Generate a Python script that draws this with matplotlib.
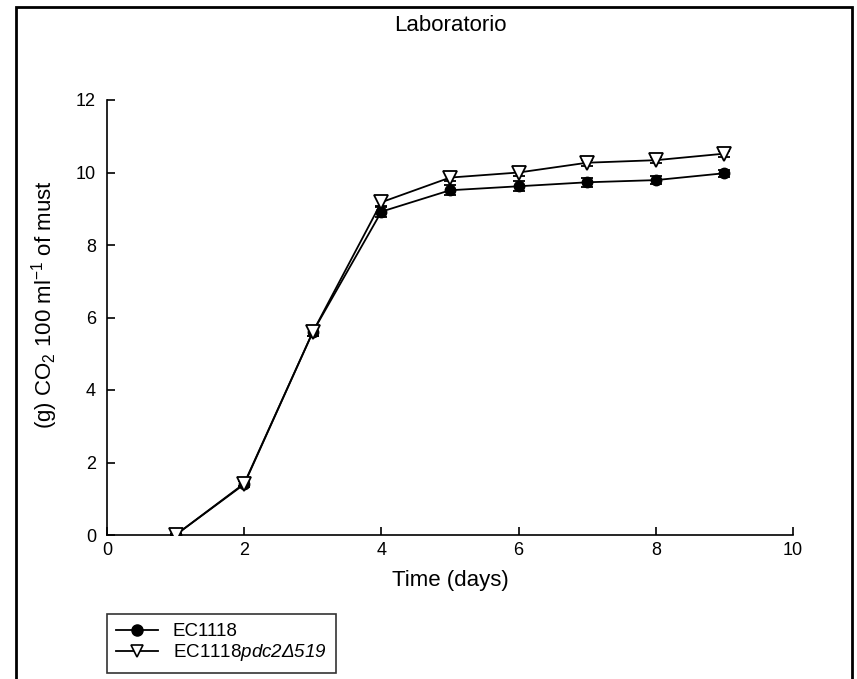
import matplotlib
matplotlib.use("Agg")
import matplotlib.pyplot as plt
from matplotlib.patches import Rectangle
from matplotlib.lines import Line2D

plt.rcParams['font.family'] = ['Liberation Sans', 'DejaVu Sans']
plt.rcParams['mathtext.fontset'] = 'custom'
plt.rcParams['mathtext.rm'] = 'Liberation Sans'
plt.rcParams['mathtext.it'] = 'Liberation Sans:italic'
plt.rcParams['mathtext.sf'] = 'Liberation Sans:italic'

days = [1, 2, 3, 4, 5, 6, 7, 8, 9]
ec1118 = [0.0, 1.40, 5.60, 8.92, 9.51, 9.62, 9.73, 9.79, 9.98]
ec1118_err = [0.03, 0.08, 0.12, 0.15, 0.14, 0.14, 0.12, 0.12, 0.10]
pdc2 = [0.0, 1.42, 5.60, 9.18, 9.86, 10.00, 10.27, 10.34, 10.52]
pdc2_err = [0.03, 0.07, 0.10, 0.12, 0.10, 0.10, 0.08, 0.08, 0.08]

labels = ['EC1118', 'EC1118$\\mathsf{pdc2\u0394519}$']
title = 'Laboratorio'
xlabel = 'Time (days)'
ylabel = '(g) CO$_2$ 100 ml$^{-1}$ of must'

W, H = 857, 679
fig = plt.figure(figsize=(W / 100, H / 100), dpi=100)
ax = fig.add_axes([107 / W, 1 - 535 / H, (793 - 107) / W, (535 - 100) / H])

ax.errorbar(days, ec1118, yerr=ec1118_err, color='black', lw=1.3,
            marker='o', ms=7.5, mfc='black', mec='black',
            capsize=4.5, elinewidth=1.3, capthick=1.3, zorder=3)
ax.errorbar(days, pdc2, yerr=pdc2_err, color='black', lw=1.3,
            marker='v', ms=9.5, mfc='white', mec='black', mew=1.3,
            capsize=4.5, elinewidth=1.3, capthick=1.3, zorder=4)

ax.set_xlim(0, 10)
ax.set_ylim(0, 12)
ax.set_xticks(range(0, 11, 2))
ax.set_yticks(range(0, 13, 2))
ax.spines['top'].set_visible(False)
ax.spines['right'].set_visible(False)
for s in ('left', 'bottom'):
    ax.spines[s].set_linewidth(1.2)
ax.tick_params(direction='in', length=6, width=1.2, labelsize=13, pad=5)
ax.tick_params(axis='y', pad=8)

ax.set_title(title, fontsize=16, pad=50)
ax.set_xlabel(xlabel, fontsize=16, labelpad=8)
ax.set_ylabel(ylabel, fontsize=16)
ax.yaxis.set_label_coords(-0.068, 0.53)

# legend
handles = [
    Line2D([], [], color='black', lw=1.3, marker='o', ms=8, mfc='black'),
    Line2D([], [], color='black', lw=1.3, marker='v', ms=9, mfc='white', mew=1.2),
]
leg = fig.legend(handles, labels, loc='upper left',
                 bbox_to_anchor=(107 / W, 1 - 614 / H), fontsize=13.5,
                 frameon=True, fancybox=False, edgecolor='black',
                 handlelength=2.2, handletextpad=0.8, borderpad=0.5,
                 labelspacing=0.1, borderaxespad=0)
leg.get_frame().set_linewidth(1.2)

# outer frame
fig.patches.append(Rectangle((16 / W, -0.05), (852 - 16) / W, 1.05 - 7 / H,
                             transform=fig.transFigure, fill=False,
                             edgecolor='black', lw=2, zorder=0))

fig.savefig('out.png', dpi=100)
